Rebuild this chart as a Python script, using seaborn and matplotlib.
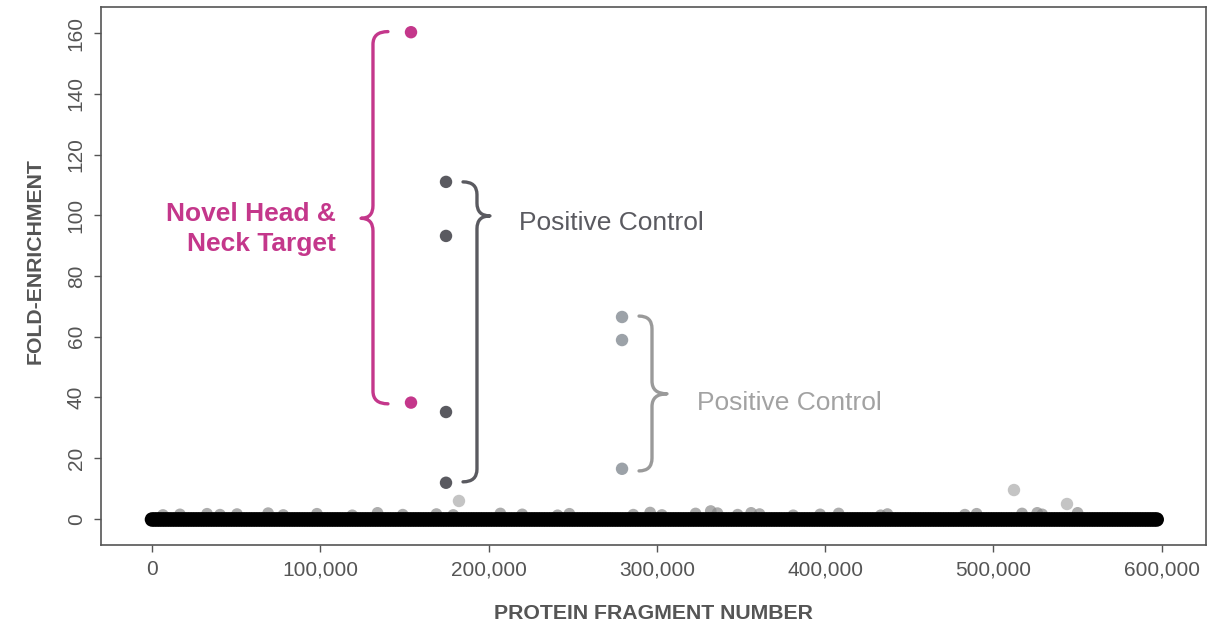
import numpy as np
import pandas as pd
import seaborn as sns
import matplotlib.pyplot as plt
from matplotlib.path import Path
from matplotlib.patches import PathPatch
from matplotlib.ticker import FuncFormatter

# === Highlighted fragments ===
novel_x = [153900, 153900]
novel_y = [160.3, 38.3]

pos_dark_x = [174700, 174700, 174700, 174700]
pos_dark_y = [111.0, 93.2, 35.2, 11.9]

pos_light_x = [279300, 279300, 279300]
pos_light_y = [66.5, 58.9, 16.5]

# faint outliers just above the background band
outlier_x = [182400, 512200, 543700]
outlier_y = [5.9, 9.5, 4.9]

# small bumps on top of the background band
bump_x = [6500, 16600, 32700, 40400, 50500, 69000, 78000, 98000, 119000, 134000,
          149000, 169000, 179000, 207000, 220000, 241000, 248000, 286000, 296000,
          303000, 323000, 332000, 336000, 348000, 356000, 361000, 381000, 397000,
          408000, 433000, 437000, 483000, 490000, 517000, 526000, 529000, 550000]
bump_y = [1.3, 1.5, 1.7, 1.4, 1.6, 1.9, 1.3, 1.7, 1.2, 2.0, 1.4, 1.6, 1.3, 1.8,
          1.5, 1.2, 1.7, 1.4, 2.1, 1.3, 1.8, 2.6, 1.9, 1.4, 2.0, 1.6, 1.2, 1.5,
          1.8, 1.2, 1.6, 1.4, 1.7, 1.8, 2.0, 1.5, 2.0]

# background: every fragment sits at ~0 fold-enrichment
n_fragments = 598000
background_level = -0.2

bg = pd.DataFrame({"fragment": np.arange(0, n_fragments + 1, 1500)})
bg["enrichment"] = background_level

MAGENTA = "#c4378b"
DARK = "#5a5a60"
LIGHT = "#9ca2a8"
LIGHT_TXT = "#a2a2a2"
AXIS_GRAY = "#555555"

sns.set_theme(style="white")
plt.rcParams["font.family"] = ["Liberation Sans", "DejaVu Sans"]

fig = plt.figure(figsize=(12.23, 6.21), dpi=100)
ax = fig.add_axes([0.0826, 0.1224, 0.9035, 0.8663])

sns.scatterplot(x=bump_x, y=bump_y, ax=ax, color="#8a8a8a", s=70, edgecolor="none", alpha=0.7)
sns.scatterplot(data=bg, x="fragment", y="enrichment", ax=ax, color="black", s=110,
                edgecolor="none", linewidth=0)
sns.scatterplot(x=outlier_x, y=outlier_y, ax=ax, color="#c4c4c4", s=80, edgecolor="none")
sns.scatterplot(x=pos_light_x, y=pos_light_y, ax=ax, color=LIGHT, s=80, edgecolor="none")
sns.scatterplot(x=pos_dark_x, y=pos_dark_y, ax=ax, color=DARK, s=80, edgecolor="none")
sns.scatterplot(x=novel_x, y=novel_y, ax=ax, color=MAGENTA, s=80, edgecolor="none")


def brace(ax, x_vert, x_stub, x_tip, y_top, y_bot, y_tip, color, ry=4.2):
    # curly brace drawn with quadratic bezier corners, in data coords
    verts = [
        (x_stub, y_top),
        (x_vert, y_top), (x_vert, y_top - ry),
        (x_vert, y_tip + ry),
        (x_vert, y_tip), (x_tip, y_tip),
        (x_vert, y_tip), (x_vert, y_tip - ry),
        (x_vert, y_bot + ry),
        (x_vert, y_bot), (x_stub, y_bot),
    ]
    codes = [Path.MOVETO,
             Path.CURVE3, Path.CURVE3,
             Path.LINETO,
             Path.CURVE3, Path.CURVE3,
             Path.CURVE3, Path.CURVE3,
             Path.LINETO,
             Path.CURVE3, Path.CURVE3]
    ax.add_patch(PathPatch(Path(verts, codes), fill=False, edgecolor=color, lw=2.4,
                           capstyle="round", joinstyle="round"))


brace(ax, 131300, 140200, 124200, 160.5, 37.9, 99.0, MAGENTA)
brace(ax, 193100, 184800, 200800, 111.0, 12.2, 99.8, DARK)
brace(ax, 297100, 289400, 306000, 66.8, 15.8, 41.2, "#9a9a9a")

ax.text(109500, 95.5, "Novel Head &\nNeck Target", color=MAGENTA, fontsize=19,
        fontweight="bold", ha="right", va="center", linespacing=1.3)
ax.text(218000, 97.5, "Positive Control", color=DARK, fontsize=19, ha="left", va="center")
ax.text(324000, 38.3, "Positive Control", color=LIGHT_TXT, fontsize=19, ha="left", va="center")

ax.set_xlim(-30300, 626300)
ax.set_ylim(-8.6, 168.6)
ax.set_xticks([0, 100000, 200000, 300000, 400000, 500000, 600000])
ax.set_yticks(range(0, 161, 20))
ax.xaxis.set_major_formatter(FuncFormatter(lambda v, p: f"{int(v):,}"))

ax.set_xlabel("PROTEIN FRAGMENT NUMBER", fontsize=15.3, fontweight="bold", color=AXIS_GRAY, labelpad=18)
ax.set_ylabel("FOLD-ENRICHMENT", fontsize=15.3, fontweight="bold", color=AXIS_GRAY)
ax.yaxis.set_label_coords(-0.051, 0.527)

ax.tick_params(axis="both", which="major", length=5, width=1, color=AXIS_GRAY,
               labelcolor=AXIS_GRAY, labelsize=15, bottom=True, left=True, pad=6)
for lbl in ax.get_yticklabels():
    lbl.set_rotation(90)
    lbl.set_va("center")

for sp in ax.spines.values():
    sp.set_color(AXIS_GRAY)
    sp.set_linewidth(1.2)

fig.savefig("out.png", dpi=100)
plt.close()
